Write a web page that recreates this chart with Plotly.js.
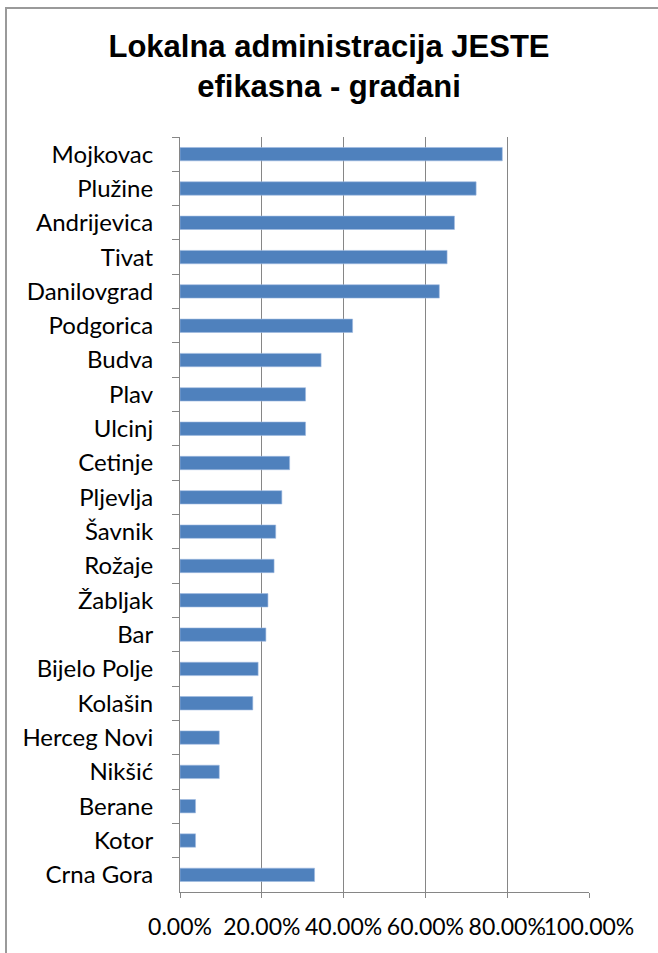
<!DOCTYPE html>
<html>
<head>
<meta charset="utf-8">
<script src="https://cdn.plot.ly/plotly-3.0.1.min.js"></script>
<style>
  html, body { margin: 0; padding: 0; background: #ffffff; overflow: hidden; }
  #chart { position: absolute; left: 0; top: 0; width: 658px; height: 953px; }
  #frameTop { position: absolute; left: 5px; top: 7px; width: 653px; height: 2px;
              background: #9a9a9a; z-index: 10; pointer-events: none; }
  #frameLeft { position: absolute; left: 5px; top: 7px; width: 2px; height: 946px;
               background: #9a9a9a; z-index: 10; pointer-events: none; }
</style>
</head>
<body>
<div id="chart"></div>
<div id="frameTop"></div>
<div id="frameLeft"></div>
<script>
// Categories, top to bottom as drawn
const categories = [
  "Mojkovac", "Plužine", "Andrijevica", "Tivat", "Danilovgrad", "Podgorica",
  "Budva", "Plav", "Ulcinj", "Cetinje", "Pljevlja", "Šavnik", "Rožaje",
  "Žabljak", "Bar", "Bijelo Polje", "Kolašin", "Herceg Novi", "Nikšić",
  "Berane", "Kotor", "Crna Gora"
];
// Share of citizens saying local administration IS efficient (fraction)
const values = [
  0.788, 0.724, 0.671, 0.653, 0.634, 0.422,
  0.345, 0.307, 0.307, 0.268, 0.249, 0.234, 0.230,
  0.215, 0.210, 0.191, 0.178, 0.096, 0.096,
  0.038, 0.038, 0.329
];
const xTickVals = [0, 0.2, 0.4, 0.6, 0.8, 1.0];
const xTickText = ["0.00%", "20.00%", "40.00%", "60.00%", "80.00%", "100.00%"];
const chartTitle = "Lokalna administracija JESTE<br>efikasna - građani";

const gray = "#868686";

const trace = {
  type: "bar",
  orientation: "h",
  y: categories,
  x: values,
  marker: { color: "#4f81bd", line: { color: "#9fbbe0", width: 0.6 } },
  hoverinfo: "skip"
};

const layout = {
  width: 658,
  height: 953,
  paper_bgcolor: "#ffffff",
  plot_bgcolor: "#ffffff",
  margin: { l: 180, r: 69, t: 137, b: 61, pad: 0 },
  showlegend: false,
  bargap: 0.61,
  title: {
    text: chartTitle,
    font: { family: "Liberation Sans, Arial, sans-serif", size: 31, color: "#000000", weight: "bold" },
    x: 0.5, xref: "container", xanchor: "center",
    y: 1 - 57 / 953, yref: "container", yanchor: "top"
  },
  xaxis: {
    range: [0, 1],
    tickvals: xTickVals,
    ticktext: xTickText,
    tickangle: 0,
    showgrid: true,
    gridcolor: gray,
    gridwidth: 1,
    zeroline: false,
    showline: true,
    linecolor: gray,
    linewidth: 1,
    ticks: "outside",
    ticklen: 5,
    tickcolor: gray,
    tickwidth: 1,
    ticklabelstandoff: 9,
    tickfont: { family: "Lato, sans-serif", size: 23, color: "#000000" },
    fixedrange: true
  },
  yaxis: {
    type: "category",
    autorange: "reversed",
    showgrid: false,
    zeroline: false,
    showline: true,
    linecolor: gray,
    linewidth: 1,
    ticks: "outside",
    tickson: "boundaries",
    ticklen: 7,
    tickcolor: gray,
    tickwidth: 1,
    ticklabelstandoff: 21,
    tickfont: { family: "Lato, sans-serif", size: 24, color: "#000000" },
    fixedrange: true
  }
};

Plotly.newPlot("chart", [trace], layout, { staticPlot: true, displayModeBar: false });
</script>
</body>
</html>
